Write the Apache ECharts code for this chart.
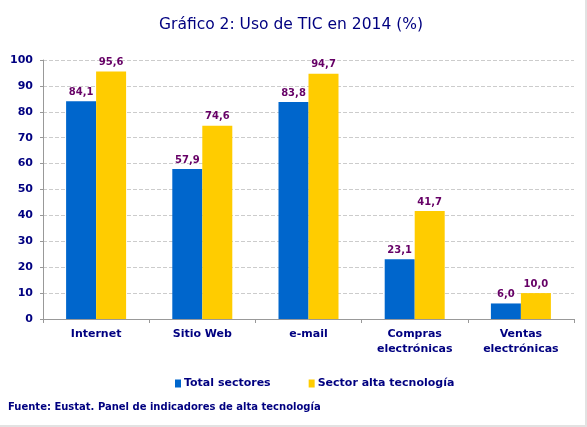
<!DOCTYPE html>
<html>
<head>
<meta charset="utf-8">
<script src="https://cdn.jsdelivr.net/npm/echarts@6/dist/echarts.min.js"></script>
<style>
    html, body { margin: 0; padding: 0; background: #fff; }
    #chart { width: 587px; height: 427px; }
</style>
</head>
<body>
<div id="chart"></div>
<script>
// datos del gráfico
var categorias = ['Internet', 'Sitio Web', 'e-mail', 'Compras\nelectrónicas', 'Ventas\nelectrónicas'];
var totalSectores = [84.1, 57.9, 83.8, 23.1, 6.0];
var altaTecnologia = [95.6, 74.6, 94.7, 41.7, 10.0];
var nombresSeries = ['Total sectores', 'Sector alta tecnología'];

var fuente = 'DejaVu Sans';
var azulTexto = '#000080';

// etiqueta con coma decimal
function formatoComa(p) {
    return p.value.toFixed(1).replace('.', ',');
}

var etiqueta = {
    show: true,
    position: 'top',
    distance: 4,
    color: '#660066',
    fontFamily: fuente,
    fontWeight: 'bold',
    fontSize: 10,
    formatter: formatoComa
};

var myChart = echarts.init(document.getElementById('chart'));
var option = {
    animation: false,
    title: {
        text: 'Gráfico 2: Uso de TIC en 2014 (%)',
        left: 154,
        top: 12,
        textStyle: {
            color: azulTexto,
            fontFamily: fuente,
            fontWeight: 'normal',
            fontSize: 15.5
        }
    },
    graphic: [{
        type: 'text',
        left: 8,
        top: 402,
        style: {
            text: 'Fuente: Eustat. Panel de indicadores de alta tecnología',
            fill: azulTexto,
            font: 'bold 10px "DejaVu Sans"'
        }
    }, {
        // sombra gris en el borde derecho e inferior
        type: 'polyline',
        shape: { points: [[586, 0], [586, 426], [0, 426]] },
        style: { fill: 'none', stroke: '#e2e2e2', lineWidth: 2 },
        silent: true
    }],
    legend: {
        data: nombresSeries,
        left: 170,
        top: 373,
        itemWidth: 6,
        itemHeight: 8,
        itemGap: 38,
        icon: 'rect',
        textStyle: {
            color: azulTexto,
            fontFamily: fuente,
            fontWeight: 'bold',
            fontSize: 11,
            padding: [0, 0, 0, -2]
        }
    },
    grid: {
        left: 43,
        right: 13,
        top: 60,
        bottom: 108,
        containLabel: false
    },
    xAxis: {
        type: 'category',
        data: categorias,
        axisLine: { lineStyle: { color: '#999', width: 1 } },
        axisTick: { show: true, lineStyle: { color: '#999' }, length: 4 },
        axisLabel: {
            color: azulTexto,
            fontFamily: fuente,
            fontWeight: 'bold',
            fontSize: 11,
            margin: 8,
            lineHeight: 15
        }
    },
    yAxis: {
        type: 'value',
        min: 0,
        max: 100,
        interval: 10,
        axisLine: { show: true, lineStyle: { color: '#999', width: 1 } },
        axisTick: { show: true, lineStyle: { color: '#999' }, length: 3 },
        axisLabel: {
            color: azulTexto,
            fontFamily: fuente,
            fontWeight: 'bold',
            fontSize: 11,
            margin: 10
        },
        splitLine: { lineStyle: { color: '#cccccc', type: 'dashed' } }
    },
    series: [{
        name: nombresSeries[0],
        type: 'bar',
        data: totalSectores,
        barWidth: 30,
        barGap: '0%',
        itemStyle: { color: '#0066cc' },
        label: etiqueta
    }, {
        name: nombresSeries[1],
        type: 'bar',
        data: altaTecnologia,
        barWidth: 30,
        barGap: '0%',
        itemStyle: { color: '#ffcc00' },
        label: etiqueta
    }]
};
myChart.setOption(option);
</script>
</body>
</html>
